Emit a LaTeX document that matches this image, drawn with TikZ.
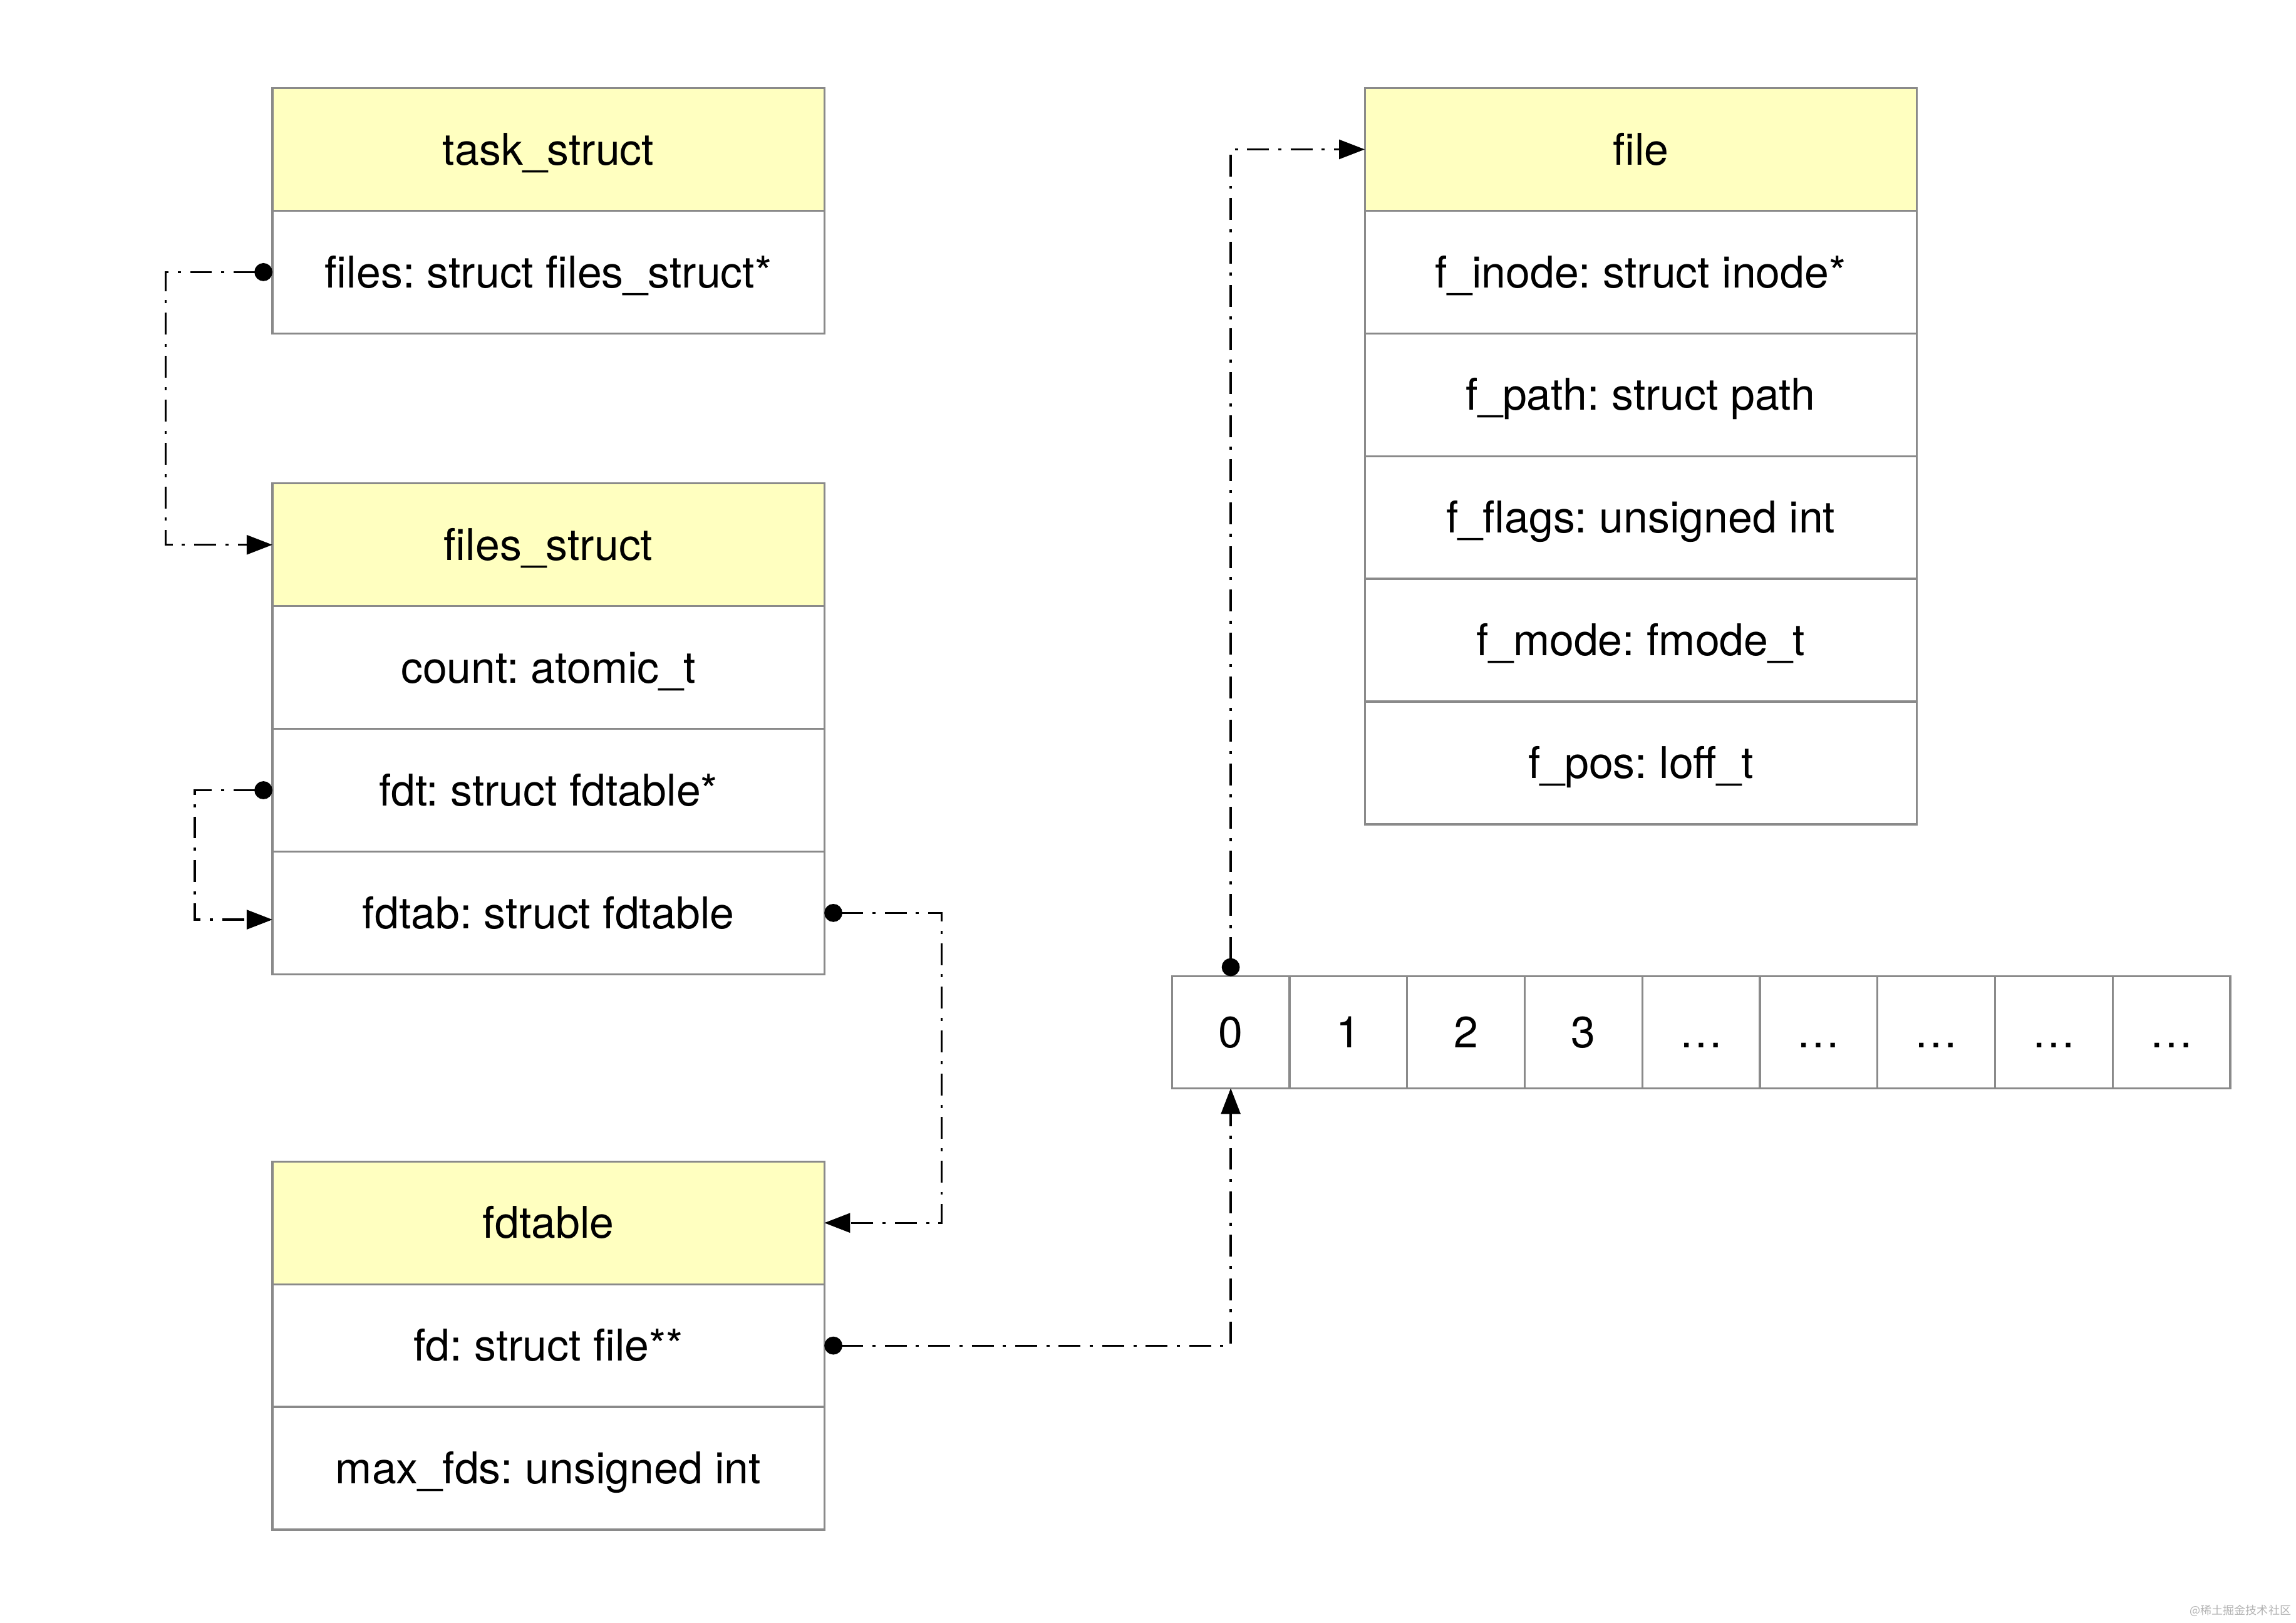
\documentclass[tikz,border=0pt]{standalone}
\usepackage{fontspec}
\setmainfont{TeX Gyre Heros}
\newfontfamily\cjk{Noto Sans CJK SC}
\usetikzlibrary{positioning, arrows.meta}
\frenchspacing
\definecolor{hdryellow}{RGB}{255,255,192}
\definecolor{boxgray}{RGB}{138,138,138}
\tikzset{
  field/.style={draw=boxgray, line width=0.8pt, minimum width=7.54cm, minimum height=1.676cm,
    inner sep=0pt, outer sep=0pt, text height=12pt, text depth=0pt, font=\fontsize{17}{20}\selectfont},
  header/.style={field, fill=hdryellow},
  cell/.style={field, minimum width=1.606cm, minimum height=1.53cm},
  ptr/.style={line width=0.8pt, dash pattern=on 8.5pt off 3.6pt on 1.2pt off 3.6pt,
    {Circle[length=7pt]}-{Triangle[length=10pt,width=7.5pt]}},
}

\begin{document}
\begin{tikzpicture}[x=0.02cm, y=-0.02cm]
 \useasboundingbox (0,0) rectangle (1568,1108);
%
 \node[header] (task) at (374.5,102) {task\_struct};
 \node[field, below=0pt of task] (taskfiles) {files: struct files\_struct*};
%
 \node[header] (fs) at (374.5,372) {files\_struct};
 \node[field, below=0pt of fs] (fscount) {count: atomic\_t};
 \node[field, below=0pt of fscount] (fsfdt) {fdt: struct fdtable*};
 \node[field, below=0pt of fsfdt] (fsfdtab) {fdtab: struct fdtable};
%
 \node[header] (fdt) at (374.5,835) {fdtable};
 \node[field, below=0pt of fdt] (fdtfd) {fd: struct file**};
 \node[field, below=0pt of fdtfd] (fdtmax) {max\_fds: unsigned int};
%
 \node[header] (file) at (1120.5,102) {file};
 \node[field, below=0pt of file] (finode) {f\_inode: struct inode*};
 \node[field, below=0pt of finode] (fpath) {f\_path: struct path};
 \node[field, below=0pt of fpath] (fflags) {f\_flags: unsigned int};
 \node[field, below=0pt of fflags] (fmode) {f\_mode: fmode\_t};
 \node[field, below=0pt of fmode] (fpos) {f\_pos: loff\_t};
%
 \foreach \lbl [count=\i from 0] in {0,1,2,3,…,…,…,…,…}
  \node[cell] (c\i) at (840.5+\i*80.3,704.8) {\lbl};
%
 \draw[ptr] (taskfiles.west) -- ++(-73,0) |- (fs.west);
 \draw[ptr] (fsfdt.west) -- ++(-53,0) |- ([yshift=-2.6pt]fsfdtab.west);
 \draw[ptr] (fsfdtab.east) -- ++(80,0) |- (fdt.east);
 \draw[ptr] (fdtfd.east) -| (c0.south);
 \draw[ptr] (c0.north) |- (file.west);
%
 \node[anchor=east, inner sep=0pt, text=black!30, font=\cjk\fontsize{4.4}{5}\selectfont] (mark) at (1565,1100) {@稀土掘金技术社区};
\end{tikzpicture}
\end{document}
